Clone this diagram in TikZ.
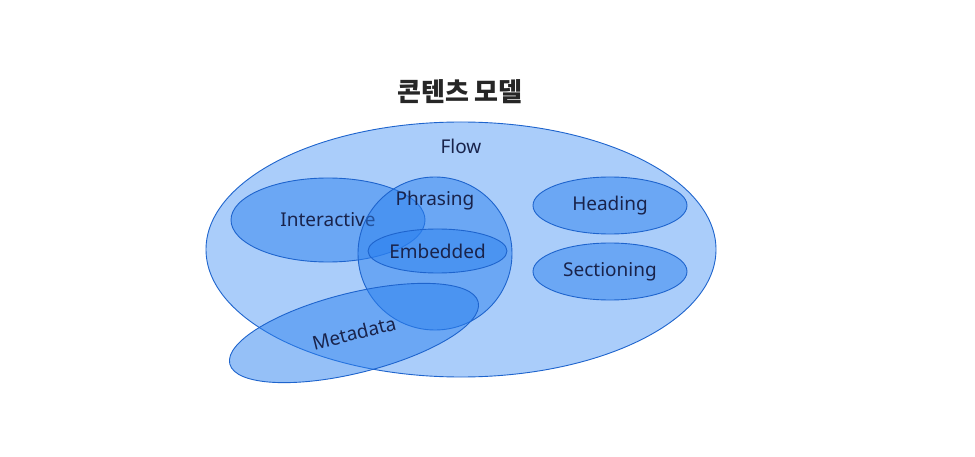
\documentclass[tikz,border=0pt]{standalone}
\usepackage{fontspec}
\setmainfont{Noto Sans}
\newfontfamily\krfont{Noto Sans CJK KR}
\usetikzlibrary{shapes.geometric}
\definecolor{setline}{RGB}{30,100,205}
\definecolor{outerfill}{RGB}{170,205,250}
\definecolor{innerfill}{RGB}{45,130,240}
\definecolor{labeltext}{RGB}{25,35,75}
\begin{document}
\begin{tikzpicture}[x=1pt,y=-1pt]
\tikzstyle{every node}=[font=\fontsize{19}{22}\selectfont,text=labeltext]
\tikzstyle{set}=[ellipse,draw=setline,line width=0.9pt,inner sep=0pt]
\tikzstyle{subset}=[set,fill=innerfill,fill opacity=0.5,text opacity=1]
\useasboundingbox[fill=white] (0,0) rectangle (975,457);
% title
\node[font=\fontsize{26}{30}\selectfont\krfont\bfseries,text=black!85] (title) at (460,92) {콘텐츠 모델};
% outer set
\node[set,fill=outerfill,minimum width=510,minimum height=255] (flow) at (461,249.5) {};
\node (flowlabel) at (461,146) {Flow};
% inner sets
\node[subset,minimum width=194,minimum height=84] (interactive) at (328,220) {Interactive};
\node[subset,minimum width=154,minimum height=153] (phrasing) at (435,253.5) {};
\node (phrasinglabel) at (435,201) {Phrasing};
\node[subset,minimum width=139,minimum height=44] (embedded) at (437.5,251) {Embedded};
\node[subset,minimum width=154,minimum height=57] (heading) at (610,205.5) {Heading};
\node[subset,minimum width=154,minimum height=57] (sectioning) at (610,271.5) {Sectioning};
\node[subset,rotate=14,minimum width=256,minimum height=80] (metadata) at (354,333) {Metadata};
\end{tikzpicture}
\end{document}
